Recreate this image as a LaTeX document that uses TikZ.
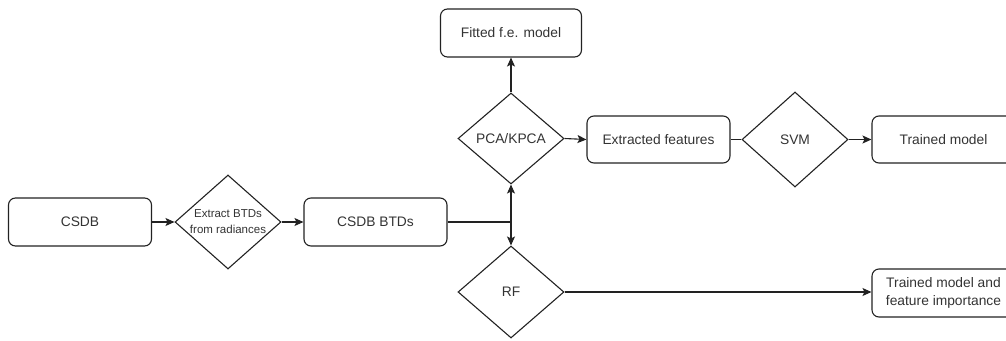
\documentclass[tikz,border=0pt]{standalone}
\usepackage{fontspec}
\setmainfont{Liberation Sans}
\usetikzlibrary{shapes.geometric,arrows.meta}
\definecolor{txt}{HTML}{333333}
\definecolor{ln}{HTML}{222222}
\tikzset{
  box/.style={draw=ln, line width=1.1pt, rounded corners=7pt, minimum width=143pt, minimum height=48pt, inner sep=0pt, text=txt, font=\fontsize{13.8pt}{17.5pt}\selectfont, align=center},
  dia/.style={draw=ln, line width=1.1pt, diamond, inner sep=0pt, minimum width=106pt, minimum height=93pt, text=txt, font=\fontsize{13.8pt}{17pt}\selectfont},
  conn/.style={draw=ln, line width=1.1pt},
  arr/.style={conn, -{Stealth[length=9pt,width=8pt,inset=2pt]}}
}
\begin{document}
\begin{tikzpicture}[x=1pt,y=-1pt]
\useasboundingbox (0,0) rectangle (1006,340);
\clip (0,0) rectangle (1006,340);
\node[box] (csdb) at (80,222) {CSDB};
\node[dia, minimum height=94pt, label={[text=txt, font=\fontsize{11.5pt}{16pt}\selectfont, align=center]center:Extract BTDs\\from radiances}] (extract) at (228,222) {};
\node[box] (btds) at (375.5,222) {CSDB BTDs};
\coordinate (j) at (511,222);
\node[dia, minimum height=91pt] (pca) at (511,138.5) {PCA/KPCA};
\node[box, minimum width=141pt] (fitted) at (511,33) {Fitted f.e. model};
\node[box, minimum height=47pt] (extracted) at (658.5,139.5) {Extracted features};
\node[dia, minimum height=95pt] (svm) at (795,139.5) {SVM};
\node[box, minimum height=47pt] (trained) at (943.5,139.5) {Trained model};
\node[dia, minimum height=92pt] (rf) at (511,292) {RF};
\node[box] (tmfi) at (943.5,293) {Trained model and\\feature importance};
\draw[arr] (csdb) -- (extract);
\draw[arr] (extract) -- (btds);
\draw[conn] (btds.east) -- (j);
\draw[arr] (j) -- (pca.south);
\draw[arr] (j) -- (rf.north);
\draw[arr] (pca.north) -- (fitted.south);
\draw[arr] (pca.east) -- (extracted.west);
\draw[conn] (extracted.east) -- (svm.west);
\draw[arr] (svm.east) -- (trained.west);
\draw[arr] (rf.east) -- (tmfi.west |- rf.east);
\end{tikzpicture}
\end{document}
